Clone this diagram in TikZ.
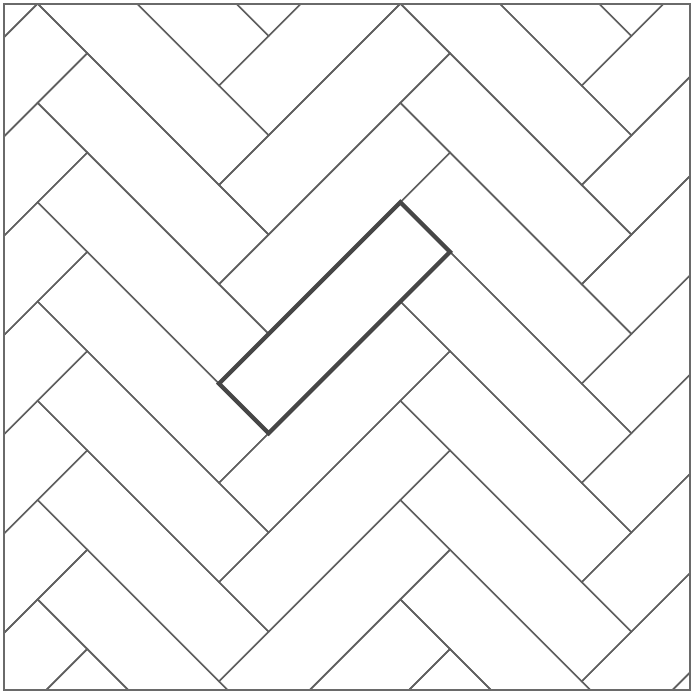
\documentclass[tikz,border=0pt]{standalone}
\definecolor{tileline}{HTML}{5F5F5F}
\definecolor{hlline}{HTML}{464646}
\definecolor{frameline}{HTML}{6A6A6A}
\tikzset{
  tileedge/.style={draw=tileline, line width=0.42pt},
  hltile/.style={draw=hlline, line width=1.2pt, line join=miter},
  framebox/.style={draw=frameline, line width=0.68pt}
}
\begin{document}
\begin{tikzpicture}
\useasboundingbox (0,0) rectangle (6.93,-6.93);
\fill[white] (0,0) rectangle (6.93,-6.93);
\begin{scope}
  \clip (0.037,-0.037) rectangle (6.898,-6.898);
  \begin{scope}[x={(0.005cm,0.005cm)}, y={(0.005cm,-0.005cm)}]
    \foreach \j in {-2,...,2}{
      \foreach \k in {-7,...,7}{
        \pgfmathsetmacro{\ca}{-164.4+99.2*\k+362.4*\j}
        \pgfmathsetmacro{\sa}{602-99.2*\k+362.4*\j}
        \pgfmathsetmacro{\cb}{\ca+362.4}
        \pgfmathsetmacro{\cm}{\cb-99.2}
        \pgfmathsetmacro{\sb}{\sa+99.2}
        \pgfmathsetmacro{\sc}{\sb+362.4}
        \draw[tileedge] (\ca,\sa) -- (\cb,\sa) -- (\cb,\sb) -- (\ca,\sb) -- cycle;
        \draw[tileedge] (\cm,\sb) -- (\cb,\sb) -- (\cb,\sc) -- (\cm,\sc) -- cycle;
      }
    }
  \end{scope}
\end{scope}
\draw[framebox] (0.037,-0.037) rectangle (6.898,-6.898);
\begin{scope}[x={(0.005cm,0.005cm)}, y={(0.005cm,-0.005cm)}]
  \draw[hltile] (-164.4,602) -- (198,602) -- (198,701.2) -- (-164.4,701.2) -- cycle;
\end{scope}
\end{tikzpicture}
\end{document}
